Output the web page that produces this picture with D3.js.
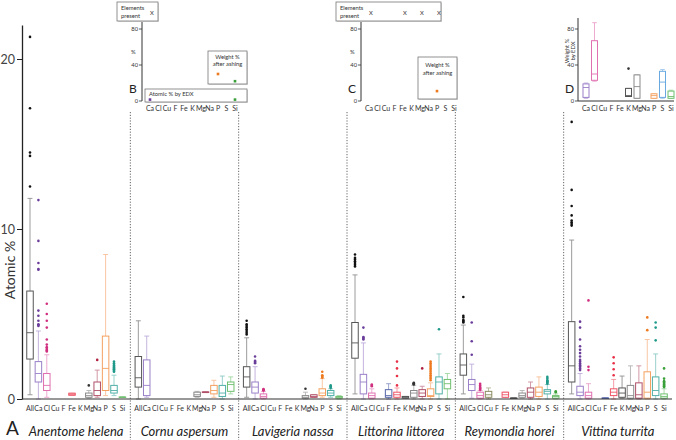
<!DOCTYPE html>
<meta charset="utf-8">
<style>
body { margin: 0; background: #fff; }
svg { font-family: Lato, "Open Sans", sans-serif; }
.cat { font-size: 7px; fill: #333; text-anchor: middle; }
.species { font-size: 13px; font-style: italic; fill: #222; text-anchor: middle; }
.small { font-size: 5.8px; fill: #333; }
</style>
<body>
<script src="https://d3js.org/d3.v7.min.js"></script>
<script>

var species = ["Anentome helena", "Cornu aspersum", "Lavigeria nassa",
               "Littorina littorea", "Reymondia horei", "Vittina turrita"];
var elements = ["All", "Ca", "Cl", "Cu", "F", "Fe", "K", "Mg", "Na", "P", "S", "Si"];
var yTicks = [0, 10, 20];

// element, low whisker, q1, median, q3, high whisker, outliers  (atomic %)
var anentome = [
  ["All", 0.25, 2.35, 3.9, 6.35, 11.8, [12.5, 14.3, 14.5, 17.1, 21.3]],
  ["Ca", 0.0, 1.0, 1.5, 2.2, 4.0, [4.3, 4.35, 4.4, 4.6, 4.9, 5.2, 7.6, 7.65, 8.0, 9.3, 11.7]],
  ["Cl", 0.1, 0.5, 0.8, 1.5, 2.6, [2.8, 2.85, 2.9, 3.0, 3.05, 3.2, 3.5, 4.2, 4.6, 5.0, 5.6]],
  ["Fe", 0.22, 0.22, 0.28, 0.34, 0.34, []],
  ["Mg", 0.05, 0.1, 0.2, 0.35, 0.5, [0.8]],
  ["Na", 0.1, 0.2, 0.5, 1.0, 1.7, [2.3]],
  ["P", 0.2, 0.5, 1.8, 3.7, 8.5, []],
  ["S", 0.2, 0.35, 0.5, 0.8, 1.4, [1.6, 1.65, 1.7, 1.75, 1.8, 1.85, 1.9, 1.95, 2.0, 2.1, 2.2]],
  ["Si", 0.1, 0.1, 0.1, 0.12, 0.12, []]
];
var cornu = [
  ["All", 0.0, 0.7, 1.25, 2.5, 4.6, []],
  ["Ca", 0.1, 0.2, 0.8, 2.3, 3.7, []],
  ["Mg", 0.1, 0.15, 0.25, 0.4, 0.45, []],
  ["Na", 0.38, 0.38, 0.4, 0.42, 0.42, []],
  ["P", 0.1, 0.3, 0.5, 0.8, 1.1, []],
  ["S", 0.0, 0.15, 0.35, 0.8, 1.35, []],
  ["Si", 0.3, 0.45, 0.85, 1.0, 1.3, []]
];
var lavigeria = [
  ["All", 0.1, 0.7, 1.3, 1.9, 3.6, [3.8, 3.9, 4.0, 4.1, 4.2, 4.3, 4.4, 4.6]],
  ["Ca", 0.0, 0.35, 0.7, 1.0, 1.9, [2.1, 2.15, 2.2, 2.25, 2.5]],
  ["Cl", 0.0, 0.05, 0.15, 0.3, 0.45, [0.5, 0.52, 0.55, 0.58]],
  ["Mg", 0.0, 0.05, 0.1, 0.2, 0.4, [0.6]],
  ["Na", 0.1, 0.1, 0.15, 0.25, 0.25, []],
  ["P", 0.1, 0.2, 0.35, 0.6, 1.2, [1.25, 1.3, 1.35, 1.4, 1.6]],
  ["S", 0.1, 0.2, 0.35, 0.5, 0.6, [0.65, 0.7, 0.75, 0.8]],
  ["Si", 0.0, 0.05, 0.1, 0.15, 0.2, []]
];
var littorina = [
  ["All", 0.3, 2.4, 3.3, 4.5, 7.3, [7.8, 7.9, 8.0, 8.1, 8.2, 8.3, 8.5]],
  ["Ca", 0.0, 0.3, 1.0, 1.45, 3.3, [3.5, 3.55, 3.6, 3.65, 4.2]],
  ["Cl", 0.0, 0.05, 0.2, 0.35, 0.6, [0.75, 0.8, 0.85]],
  ["F", 0.0, 0.1, 0.2, 0.55, 0.9, []],
  ["Fe", 0.0, 0.1, 0.25, 0.4, 0.65, [0.8, 1.35, 1.8, 2.2]],
  ["K", 0.05, 0.05, 0.1, 0.15, 0.15, []],
  ["Mg", 0.0, 0.1, 0.35, 0.5, 0.8, [0.85, 0.88, 0.9, 0.93, 0.95]],
  ["Na", 0.0, 0.15, 0.35, 0.55, 0.75, [1.8]],
  ["P", 0.0, 0.15, 0.2, 0.6, 0.95, [1.1, 1.2, 1.3, 1.4, 1.5, 1.6, 1.7, 1.8, 1.9, 2.0, 2.1, 2.2]],
  ["S", 0.0, 0.3, 1.0, 1.3, 2.65, [4.1]],
  ["Si", 0.0, 0.6, 0.9, 1.15, 1.5, []]
];
var reymondia = [
  ["All", 0.3, 1.4, 2.0, 2.65, 4.35, [4.5, 4.55, 4.6, 4.65, 4.8, 4.9, 6.0]],
  ["Ca", 0.05, 0.5, 0.85, 1.15, 2.05, [2.6, 3.4, 4.5]],
  ["Cl", 0.0, 0.05, 0.2, 0.4, 0.5, [0.55, 0.6, 0.65, 0.7, 0.8, 0.9]],
  ["Cu", 0.0, 0.1, 0.25, 0.45, 0.65, []],
  ["Fe", 0.1, 0.1, 0.25, 0.4, 0.4, []],
  ["K", 0.05, 0.05, 0.05, 0.06, 0.06, []],
  ["Mg", 0.05, 0.1, 0.2, 0.35, 0.5, []],
  ["Na", 0.0, 0.1, 0.4, 0.65, 1.0, []],
  ["P", 0.0, 0.15, 0.4, 0.7, 1.3, []],
  ["S", 0.0, 0.3, 0.45, 0.55, 0.85, [0.9, 0.95, 1.0, 1.05, 1.1, 1.2, 1.3]],
  ["Si", 0.0, 0.05, 0.15, 0.2, 0.3, [0.4, 0.45]]
];
var vittina = [
  ["All", 0.3, 1.0, 1.95, 4.55, 9.35, [10.2, 10.3, 10.4, 10.5, 10.8, 11.35, 12.3, 16.3]],
  ["Ca", 0.0, 0.2, 0.4, 0.75, 1.5, [1.7, 1.8, 1.9, 1.95, 2.0, 2.1, 2.2, 2.3, 2.5, 2.7, 2.9, 3.1, 3.5, 4.2, 4.55]],
  ["Cl", 0.0, 0.05, 0.2, 0.4, 0.9, [1.7, 1.9, 5.8]],
  ["F", 0.05, 0.05, 0.05, 0.06, 0.06, []],
  ["Fe", 0.0, 0.2, 0.4, 0.6, 1.15, [1.4, 1.75, 2.1, 2.45]],
  ["K", 0.05, 0.1, 0.35, 0.65, 1.35, []],
  ["Mg", 0.0, 0.05, 0.2, 0.8, 1.95, []],
  ["Na", 0.0, 0.05, 0.25, 0.95, 1.95, []],
  ["P", 0.0, 0.05, 0.4, 1.6, 3.5, [4.05, 4.8]],
  ["S", 0.0, 0.2, 0.5, 1.3, 2.65, [3.45, 4.2, 4.5]],
  ["Si", 0.0, 0.05, 0.15, 0.3, 0.6, [0.7, 0.75, 0.8, 0.85, 0.9, 0.95, 1.0, 1.05, 1.2, 1.8]]
];
var groups = [anentome, cornu, lavigeria, littorina, reymondia, vittina];

// insets
var insetElements = ["Ca", "Cl", "Cu", "F", "Fe", "K", "Mg", "Na", "P", "S", "Si"];
var insetTicks = [0, 40, 80];
var cornuPresent = ["Ca"];
var cornuAshWeight = [["P", 30], ["Si", 22]];
var cornuAtomicEDX = [["Ca", 1], ["Si", 1]];
var littorinaPresent = ["Ca", "Fe", "Mg", "P"];
var littorinaAshWeight = [["P", 11]];
// weight % by EDX (Vittina turrita)
var vittinaWeightEDX = [
  ["Ca", 3, 4, 15, 19, 20, []],
  ["Cl", 22, 23, 30, 67, 87, []],
  ["K", 5, 5, 6, 14, 14, [36]],
  ["Mg", 3, 3, 16, 29, 29, []],
  ["P", 3, 3, 6, 8, 8, []],
  ["S", 3, 4, 21, 33, 35, []],
  ["Si", 3, 3, 5, 11, 12, []]
];

// colours: box outline, point colour
var boxColor = {All: "#555", Ca: "#9a80c8", Cl: "#e070b0", Cu: "#8a8a60", F: "#5566aa", Fe: "#ee5566",
                K: "#555", Mg: "#8a8a8a", Na: "#b05068", P: "#f4a060", S: "#50b0a8", Si: "#70c070"};
var ptColor = {All: "#111", Ca: "#6a3d9a", Cl: "#d0307f", Cu: "#666", F: "#3b4f9a", Fe: "#e83048",
               K: "#333", Mg: "#333", Na: "#b02040", P: "#ee7a20", S: "#1f9a8a", Si: "#3aa03a"};

var svg = d3.select("body").append("svg")
    .attr("width", 676)
    .attr("height", 440);

var y = d3.scaleLinear().domain([0, 22]).range([399, 25]);
var xGroup = d3.scaleBand().domain(species).range([22, 672]);
var xEl = d3.scalePoint().domain(elements).range([8, 100.4]);

function whiteMix(c, t) { return d3.interpolateRgb(c, "#fff")(t); }

function drawBoxes(g, rows, xs, ys, w, colorFn, pointFn) {
  var b = g.selectAll(".box").data(rows).enter().append("g")
      .attr("transform", function(d) { return "translate(" + xs(d[0]) + ",0)"; });
  b.append("line")
      .attr("y1", function(d) { return ys(d[1]); })
      .attr("y2", function(d) { return ys(d[5]); })
      .attr("stroke", function(d) { return whiteMix(colorFn(d[0]), 0.35); })
      .attr("stroke-width", 0.9);
  [1, 5].forEach(function(k) {
    b.append("line")
        .attr("x1", -w * 0.38).attr("x2", w * 0.38)
        .attr("y1", function(d) { return ys(d[k]); })
        .attr("y2", function(d) { return ys(d[k]); })
        .attr("stroke", function(d) { return whiteMix(colorFn(d[0]), 0.35); })
        .attr("stroke-width", 0.9);
  });
  b.append("rect")
      .attr("x", -w / 2).attr("width", w)
      .attr("y", function(d) { return ys(d[4]); })
      .attr("height", function(d) { return Math.max(0.5, ys(d[2]) - ys(d[4])); })
      .attr("fill", "#fff")
      .attr("stroke", function(d) { return colorFn(d[0]); })
      .attr("stroke-width", 1);
  b.append("line")
      .attr("x1", -w / 2).attr("x2", w / 2)
      .attr("y1", function(d) { return ys(d[3]); })
      .attr("y2", function(d) { return ys(d[3]); })
      .attr("stroke", function(d) { return colorFn(d[0]); })
      .attr("stroke-width", 0.9);
  b.each(function(d) {
    d3.select(this).selectAll("circle").data(d[6]).enter().append("circle")
        .attr("cy", function(v) { return ys(v); })
        .attr("r", 1.3)
        .attr("fill", pointFn(d[0]));
  });
}

// group separators
svg.selectAll(".sep").data(species.slice(1)).enter().append("line")
    .attr("x1", function(d) { return xGroup(d); })
    .attr("x2", function(d) { return xGroup(d); })
    .attr("y1", 112).attr("y2", 440)
    .attr("stroke", "#666")
    .attr("stroke-dasharray", "1.2,1.6");

// main boxes
species.forEach(function(s, i) {
  var g = svg.append("g").attr("transform", "translate(" + xGroup(s) + ",0)");
  drawBoxes(g, groups[i], xEl, y, 6.5,
            function(e) { return boxColor[e]; }, function(e) { return ptColor[e]; });
  g.selectAll(".cat").data(elements).enter().append("text")
      .attr("class", "cat")
      .attr("x", function(e) { return xEl(e); })
      .attr("y", 411)
      .text(function(e) { return e; });
  g.append("text")
      .attr("class", "species")
      .attr("x", xGroup.bandwidth() / 2)
      .attr("y", 436)
      .text(s);
});

// axes
var yAxis = svg.append("g").attr("transform", "translate(22,0)")
    .call(d3.axisLeft(y).tickValues(yTicks).tickSize(5).tickPadding(2).tickSizeOuter(0));
yAxis.select(".domain").attr("stroke", "#222").attr("stroke-width", 1.3);
yAxis.selectAll(".tick line").attr("stroke", "#222");
yAxis.selectAll(".tick text").attr("font-size", 12.5).attr("fill", "#444")
    .attr("font-family", "Lato, sans-serif");

svg.append("line")
    .attr("x1", xGroup.range()[0]).attr("x2", xGroup.range()[1])
    .attr("y1", y(0)).attr("y2", y(0))
    .attr("stroke", "#333").attr("stroke-width", 1.2);

svg.append("text")
    .attr("transform", "translate(15," + 270 + ") rotate(-90)")
    .attr("text-anchor", "middle")
    .attr("font-size", 14).attr("fill", "#333")
    .text("Atomic %");

svg.append("text")
    .attr("x", 6).attr("y", 435)
    .attr("font-size", 19).attr("fill", "#222")
    .text("A");

// ---- insets ----
var yIn = d3.scaleLinear().domain([0, 80]).range([101, 29]);

function insetAxis(ax, letter) {
  var g = svg.append("g");
  var xs = d3.scalePoint().domain(insetElements).range([ax + 8, ax + 93]);
  g.append("line").attr("x1", ax).attr("x2", ax).attr("y1", 18).attr("y2", yIn(0))
      .attr("stroke", "#333").attr("stroke-width", 1);
  g.selectAll(".tk").data(insetTicks).enter().append("line")
      .attr("x1", ax - 3).attr("x2", ax)
      .attr("y1", function(d) { return yIn(d); }).attr("y2", function(d) { return yIn(d); })
      .attr("stroke", "#333").attr("stroke-width", 0.8);
  g.selectAll(".tl").data(insetTicks).enter().append("text")
      .attr("class", "small")
      .attr("x", ax - 4).attr("y", function(d) { return yIn(d) + 2; })
      .attr("text-anchor", "end")
      .text(function(d) { return d; });
  g.selectAll(".cl").data(insetElements).enter().append("text")
      .attr("class", "cat")
      .attr("x", function(e) { return xs(e); }).attr("y", 111)
      .text(function(e) { return e; });
  g.append("text").attr("x", ax - 13).attr("y", 93)
      .attr("font-size", 12).attr("fill", "#222").text(letter);
  return {g: g, x: xs};
}

function panel(g, x0, y0, w, h) {
  g.append("rect").attr("x", x0 + 1).attr("y", y0 + 1).attr("width", w).attr("height", h)
      .attr("fill", "#ddd");
  g.append("rect").attr("x", x0).attr("y", y0).attr("width", w).attr("height", h)
      .attr("fill", "#fff").attr("stroke", "#777").attr("stroke-width", 0.8);
}

function presentBox(ins, ax, w, present) {
  panel(ins.g, ax - 25, 2, w, 19);
  ins.g.append("text").attr("class", "small").attr("x", ax - 21).attr("y", 10).text("Elements");
  ins.g.append("text").attr("class", "small").attr("x", ax - 21).attr("y", 17.5).text("present");
  ins.g.selectAll(".px").data(present).enter().append("text")
      .attr("class", "small").attr("text-anchor", "middle")
      .attr("font-size", 6.5)
      .attr("x", function(e) { return ins.x(e) + 2; }).attr("y", 15)
      .text("X");
}

function percentLabel(ax) {
  svg.append("text").attr("class", "small").attr("x", ax - 11).attr("y", 54).text("%");
}

// B: Cornu aspersum
var bAx = 142;
var B = insetAxis(bAx, "B");
percentLabel(bAx);
presentBox(B, bAx, 41, cornuPresent);
panel(B.g, 208, 51, 39, 33);
B.g.append("text").attr("class", "small").attr("x", 227.5).attr("y", 59).attr("text-anchor", "middle").text("Weight %");
B.g.append("text").attr("class", "small").attr("x", 227.5).attr("y", 66).attr("text-anchor", "middle").text("after ashing");
panel(B.g, 145, 89, 102, 13);
B.g.append("text").attr("class", "small").attr("x", 149).attr("y", 96).text("Atomic % by EDX");
B.g.selectAll(".aw").data(cornuAshWeight).enter().append("rect")
    .attr("x", function(d) { return B.x(d[0]) - 1.3; })
    .attr("y", function(d) { return yIn(d[1]) - 1.3; })
    .attr("width", 2.6).attr("height", 2.6)
    .attr("fill", function(d) { return d[0] === "P" ? ptColor.P : ptColor.Si; });
B.g.selectAll(".ae").data(cornuAtomicEDX).enter().append("rect")
    .attr("x", function(d) { return B.x(d[0]) - 1.3; })
    .attr("y", function(d) { return yIn(d[1]) - 1.8; })
    .attr("width", 2.6).attr("height", 2.6)
    .attr("fill", function(d) { return d[0] === "Ca" ? ptColor.Ca : ptColor.Si; });

// C: Littorina littorea
var cAx = 361;
var C = insetAxis(cAx, "C");
percentLabel(cAx);
presentBox(C, cAx, 105, littorinaPresent);
panel(C.g, 418, 57, 39, 42);
C.g.append("text").attr("class", "small").attr("x", 437.5).attr("y", 67).attr("text-anchor", "middle").text("Weight %");
C.g.append("text").attr("class", "small").attr("x", 437.5).attr("y", 75).attr("text-anchor", "middle").text("after ashing");
C.g.selectAll(".aw").data(littorinaAshWeight).enter().append("rect")
    .attr("x", function(d) { return C.x(d[0]) - 1.3; })
    .attr("y", function(d) { return yIn(d[1]) - 1.3; })
    .attr("width", 2.6).attr("height", 2.6)
    .attr("fill", ptColor.P);

// D: Vittina turrita
var dAx = 578;
var D = insetAxis(dAx, "D");
D.g.append("line").attr("x1", dAx).attr("x2", 674).attr("y1", yIn(0)).attr("y2", yIn(0))
    .attr("stroke", "#333").attr("stroke-width", 1);
var dColor = function(e) { return e === "S" ? "#6aa8e0" : boxColor[e]; };
drawBoxes(D.g, vittinaWeightEDX, D.x, yIn, 6, dColor, function(e) { return ptColor[e]; });
D.g.append("text").attr("transform", "translate(569,51) rotate(-90)")
    .attr("class", "small").attr("text-anchor", "middle").text("Weight %");
D.g.append("text").attr("transform", "translate(575,51) rotate(-90)")
    .attr("class", "small").attr("text-anchor", "middle").text("by EDX");

</script>
